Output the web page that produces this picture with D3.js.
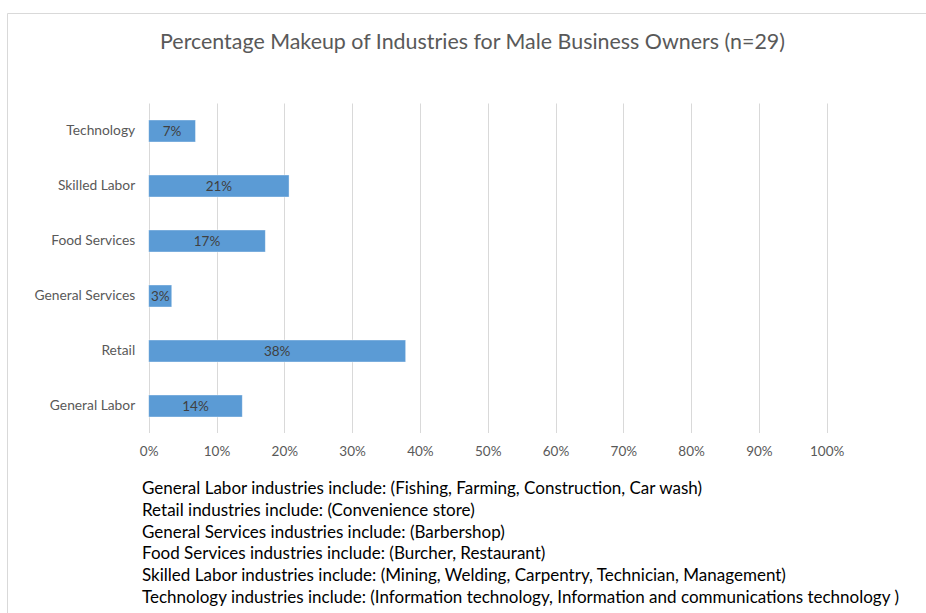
<!DOCTYPE html>
<html>
<head>
<meta charset="utf-8">
<script src="https://cdn.jsdelivr.net/npm/d3@7"></script>
<style>
  html, body { margin: 0; padding: 0; background: #fff; }
  svg { display: block; font-family: Lato, "Open Sans", sans-serif; }
</style>
</head>
<body>
<svg id="chart" width="926" height="613"></svg>
<script>
// Industry categories, top to bottom
const categories = ["Technology", "Skilled Labor", "Food Services", "General Services", "Retail", "General Labor"];
// Share of male business owners per industry (counts out of n=29, as percent)
const shares = [6.9, 20.7, 17.2, 3.4, 37.9, 13.8];
// X axis ticks
const xTicks = [0, 10, 20, 30, 40, 50, 60, 70, 80, 90, 100];
const title = "Percentage Makeup of Industries for Male Business Owners (n=29)";
const notes = [
  "General Labor industries include: (Fishing, Farming, Construction, Car wash)",
  "Retail industries include: (Convenience store)",
  "General Services industries include: (Barbershop)",
  "Food Services industries include: (Burcher, Restaurant)",
  "Skilled Labor industries include: (Mining, Welding, Carpentry, Technician, Management)",
  "Technology industries include: (Information technology, Information and communications technology )"
];

const svg = d3.select("#chart");

// chart area frame
svg.append("path")
  .attr("d", "M7.5,613 V13.5 H926")
  .attr("fill", "none")
  .attr("stroke", "#d9d9d9")
  .attr("stroke-width", 1);

// fit a text element to a target width by adjusting its font size
function fitWidth(sel, target) {
  const node = sel.node();
  const fs = parseFloat(sel.attr("font-size"));
  const w = node.getComputedTextLength();
  sel.attr("font-size", (fs * target / w).toFixed(2));
}

const title_ = svg.append("text")
  .attr("x", 472.5).attr("y", 49)
  .attr("text-anchor", "middle")
  .attr("font-size", 20)
  .attr("fill", "#595959")
  .text(title);
fitWidth(title_, 625);

const x = d3.scaleLinear().domain([0, 100]).range([148.7, 826.7]);
const y = d3.scaleBand().domain(categories).range([103.5, 433.5]).paddingInner(0.6).paddingOuter(0.3);

// vertical gridlines
svg.append("g")
  .selectAll("line")
  .data(xTicks)
  .join("line")
  .attr("x1", d => Math.round(x(d)) + 0.5)
  .attr("x2", d => Math.round(x(d)) + 0.5)
  .attr("y1", 103.5)
  .attr("y2", 433)
  .attr("stroke", "#d9d9d9")
  .attr("stroke-width", 1);

// x axis tick labels
const xAxis = svg.append("g")
  .attr("transform", "translate(0,433)")
  .call(d3.axisBottom(x).tickValues(xTicks).tickFormat(d => d + "%").tickSize(0).tickPadding(13));
xAxis.select(".domain").remove();
xAxis.selectAll("text")
  .attr("font-family", "Lato, 'Open Sans', sans-serif")
  .attr("font-size", 13.5)
  .attr("fill", "#595959");

// y axis category labels
const yAxis = svg.append("g")
  .attr("transform", "translate(148.7,0)")
  .call(d3.axisLeft(y).tickSize(0).tickPadding(13.5));
yAxis.select(".domain").remove();
yAxis.selectAll("text")
  .attr("font-family", "Lato, 'Open Sans', sans-serif")
  .attr("font-size", 13.8)
  .attr("fill", "#595959");

// bars
svg.append("g")
  .selectAll("rect")
  .data(categories)
  .join("rect")
  .attr("x", x(0))
  .attr("y", d => y(d))
  .attr("width", (d, i) => x(shares[i]) - x(0))
  .attr("height", y.bandwidth())
  .attr("fill", "#5b9bd5")
  .attr("stroke", "#ffffff")
  .attr("stroke-opacity", 0.5)
  .attr("stroke-width", 0.75);

// value labels centred in each bar
svg.append("g")
  .selectAll("text")
  .data(categories)
  .join("text")
  .attr("x", (d, i) => (x(0) + x(shares[i])) / 2)
  .attr("y", d => y(d) + y.bandwidth() / 2)
  .attr("dy", "0.36em")
  .attr("text-anchor", "middle")
  .attr("font-size", 13.5)
  .attr("fill", "#404040")
  .text((d, i) => Math.round(shares[i]) + "%");

// industry definitions below the chart
const noteTexts = svg.append("g")
  .selectAll("text")
  .data(notes)
  .join("text")
  .attr("x", 142)
  .attr("y", (d, i) => 494 + i * 21.8)
  .attr("font-size", 17)
  .attr("fill", "#000")
  .text(d => d);
fitWidth(noteTexts.filter((d, i) => i === 0), 560);
const noteSize = noteTexts.filter((d, i) => i === 0).attr("font-size");
noteTexts.attr("font-size", noteSize);
</script>
</body>
</html>
